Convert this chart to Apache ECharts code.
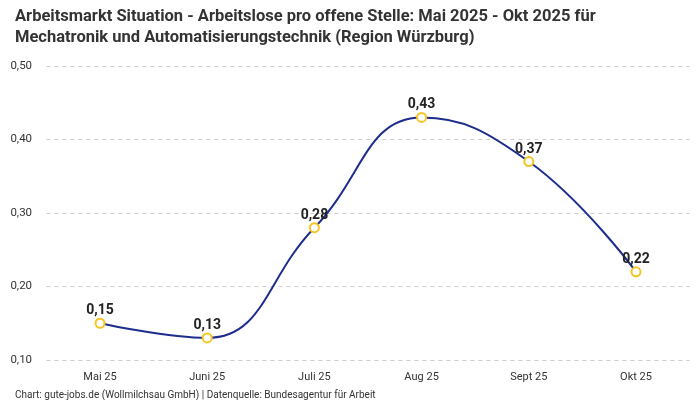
<!DOCTYPE html>
<html><head><meta charset="utf-8">
<script src="https://cdn.jsdelivr.net/npm/echarts@6/dist/echarts.min.js"></script>
<style>html,body{margin:0;padding:0;background:#fff}#c{width:700px;height:400px}</style>
</head><body><div id="c"></div>
<script>
const categories = ['Mai 25','Juni 25','Juli 25','Aug 25','Sept 25','Okt 25'];
const values = [0.15, 0.13, 0.28, 0.43, 0.37, 0.22];
const titleText = 'Arbeitsmarkt Situation - Arbeitslose pro offene Stelle: Mai 2025 - Okt 2025 für\nMechatronik und Automatisierungstechnik (Region Würzburg)';
const footerText = 'Chart: gute-jobs.de (Wollmilchsau GmbH) | Datenquelle: Bundesagentur für Arbeit';
const fmt = v => v.toFixed(2).replace('.', ',');
const FONT = 'Roboto';
const chart = echarts.init(document.getElementById('c'));
chart.setOption({
  animation: false,
  textStyle: {fontFamily: FONT},
  title: [{
    text: titleText, left: 10, top: 1,
    textStyle: {fontSize: 16.5, fontWeight: 'bold', color: '#333', lineHeight: 21, fontFamily: FONT}
  },{
    text: footerText, left: 10, top: 385,
    textStyle: {fontSize: 10, fontWeight: 'normal', color: '#333', fontFamily: FONT}
  }],
  grid: {left: 46.4, right: 10.4, top: 66, bottom: 40, outerBoundsMode: 'none', containLabel: false},
  xAxis: {
    type: 'category', data: categories, boundaryGap: true,
    axisLine: {show: false}, axisTick: {show: false},
    axisLabel: {fontSize: 11, color: '#333', margin: 12}
  },
  yAxis: {
    type: 'value', min: 0.1, max: 0.5, interval: 0.1,
    axisLabel: {fontSize: 11.5, color: '#333', formatter: fmt, margin: 36, align: 'left'},
    splitLine: {lineStyle: {type: [4,4], color: '#ccc'}}
  },
  series: [{
    type: 'line', data: values, smooth: 0.45,
    lineStyle: {color: '#1c2d8c', width: 2},
    itemStyle: {color: '#fff', borderColor: '#f7c520', borderWidth: 2},
    symbol: 'circle', symbolSize: 9, showAllSymbol: true,
    label: {show: true, position: 'top', distance: 0, formatter: p => fmt(p.value),
      fontSize: 14, fontWeight: 'bold', color: '#222'}
  }]
});
</script></body></html>
